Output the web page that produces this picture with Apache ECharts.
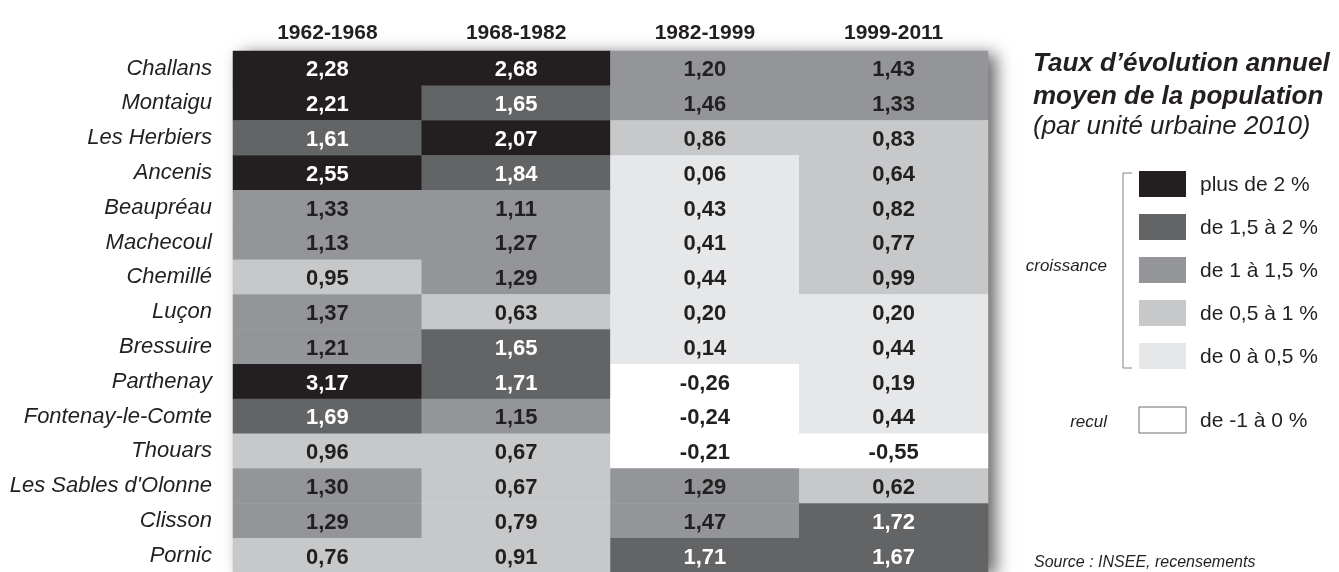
<!DOCTYPE html>
<html>
<head>
<meta charset="utf-8">
<script src="https://cdn.jsdelivr.net/npm/echarts@6/dist/echarts.min.js"></script>
<style>
  html, body { margin: 0; padding: 0; background: #fff; }
  #main { width: 1339px; height: 572px; }
</style>
</head>
<body>
<div id="main"></div>
<script>
// periodes (colonnes) et unites urbaines (lignes)
var periods = ['1962-1968', '1968-1982', '1982-1999', '1999-2011'];
var cities = ['Challans', 'Montaigu', 'Les Herbiers', 'Ancenis', 'Beaupréau', 'Machecoul',
  'Chemillé', 'Luçon', 'Bressuire', 'Parthenay', 'Fontenay-le-Comte', 'Thouars',
  "Les Sables d'Olonne", 'Clisson', 'Pornic'];

// taux d'evolution annuel moyen (%)
var rate6268 = [2.28, 2.21, 1.61, 2.55, 1.33, 1.13, 0.95, 1.37, 1.21, 3.17, 1.69, 0.96, 1.30, 1.29, 0.76];
var rate6882 = [2.68, 1.65, 2.07, 1.84, 1.11, 1.27, 1.29, 0.63, 1.65, 1.71, 1.15, 0.67, 0.67, 0.79, 0.91];
var rate8299 = [1.20, 1.46, 0.86, 0.06, 0.43, 0.41, 0.44, 0.20, 0.14, -0.26, -0.24, -0.21, 1.29, 1.47, 1.71];
var rate9911 = [1.43, 1.33, 0.83, 0.64, 0.82, 0.77, 0.99, 0.20, 0.44, 0.19, 0.44, -0.55, 0.62, 1.72, 1.67];

// classes de la legende
var classLabels = ['plus de 2 %', 'de 1,5 à 2 %', 'de 1 à 1,5 %', 'de 0,5 à 1 %', 'de 0 à 0,5 %', 'de -1 à 0 %'];
var classMin = [2, 1.5, 1, 0.5, 0, -1];
var classMax = [10, 2, 1.5, 1, 0.5, 0];
var classColors = ['#231f20', '#636466', '#939598', '#c7c8ca', '#e6e7e8', '#ffffff'];

var cols = [rate6268, rate6882, rate8299, rate9911];
var data = [];
cols.forEach(function (col, x) {
  col.forEach(function (v, y) {
    data.push({
      value: [x, y, v],
      label: { color: v >= 1.5 ? '#ffffff' : '#231f20' }
    });
  });
});

var pieces = classMin.map(function (m, i) {
  return { gte: m, lt: classMax[i], color: classColors[i] };
});

var FONT = '"Liberation Sans", Arial, sans-serif';

// legende dessinee a la main
var legendTop = [184, 227, 270, 313, 356, 420];
var graphics = [
  { type: 'text', left: 1033, top: 51, style: { text: 'Taux d’évolution annuel', font: 'italic bold 26px ' + FONT, fill: '#231f20' } },
  { type: 'text', left: 1033, top: 84, style: { text: 'moyen de la population', font: 'italic bold 26px ' + FONT, fill: '#231f20' } },
  { type: 'text', left: 1033, top: 114, style: { text: '(par unité urbaine 2010)', font: 'italic 26px ' + FONT, fill: '#231f20' } },
  { type: 'polyline', shape: { points: [[1132, 173], [1123, 173], [1123, 368], [1132, 368]] }, style: { stroke: '#808285', lineWidth: 1, fill: null } },
  { type: 'text', x: 1107, y: 266, style: { text: 'croissance', font: 'italic 17px ' + FONT, fill: '#231f20', textAlign: 'right', textVerticalAlign: 'middle' } },
  { type: 'text', x: 1107, y: 422, style: { text: 'recul', font: 'italic 17px ' + FONT, fill: '#231f20', textAlign: 'right', textVerticalAlign: 'middle' } },
  { type: 'text', x: 1034, y: 563, style: { text: 'Source : INSEE, recensements', font: 'italic 16px ' + FONT, fill: '#231f20', textVerticalAlign: 'middle' } }
];
classLabels.forEach(function (lab, i) {
  graphics.push({
    type: 'rect',
    shape: { x: 1139, y: legendTop[i] - 13, width: 47, height: 26 },
    style: { fill: classColors[i], stroke: i === 5 ? '#6d6e71' : null, lineWidth: 1 }
  });
  graphics.push({
    type: 'text', x: 1200, y: legendTop[i] + 1,
    style: { text: lab, font: '21px ' + FONT, fill: '#231f20', textVerticalAlign: 'middle' }
  });
});

var myChart = echarts.init(document.getElementById('main'));
myChart.setOption({
  animation: false,
  grid: {
    show: true,
    left: 233,
    top: 51,
    width: 755,
    height: 522,
    outerBoundsMode: 'none',
    containLabel: false,
    backgroundColor: '#ffffff',
    borderWidth: 0,
    shadowColor: 'rgba(0,0,0,0.6)',
    shadowBlur: 16,
    shadowOffsetX: 8,
    shadowOffsetY: 3
  },
  xAxis: {
    type: 'category',
    position: 'top',
    data: periods,
    axisLine: { show: false },
    axisTick: { show: false },
    splitLine: { show: false },
    axisLabel: {
      margin: 7,
      color: '#231f20',
      fontSize: 21,
      fontWeight: 'bold',
      fontFamily: FONT
    }
  },
  yAxis: {
    type: 'category',
    inverse: true,
    data: cities,
    axisLine: { show: false },
    axisTick: { show: false },
    splitLine: { show: false },
    axisLabel: {
      margin: 21,
      padding: [5, 0, 0, 0],
      color: '#231f20',
      fontSize: 22,
      fontStyle: 'italic',
      fontFamily: FONT
    }
  },
  visualMap: {
    type: 'piecewise',
    show: false,
    dimension: 2,
    pieces: pieces
  },
  series: [{
    type: 'heatmap',
    data: data,
    itemStyle: { borderWidth: 0 },
    emphasis: { disabled: true },
    label: {
      show: true,
      offset: [0, 2],
      fontSize: 22,
      fontWeight: 'bold',
      fontFamily: FONT,
      formatter: function (p) {
        return p.value[2].toFixed(2).replace('.', ',');
      }
    }
  }],
  graphic: graphics
});
</script>
</body>
</html>
